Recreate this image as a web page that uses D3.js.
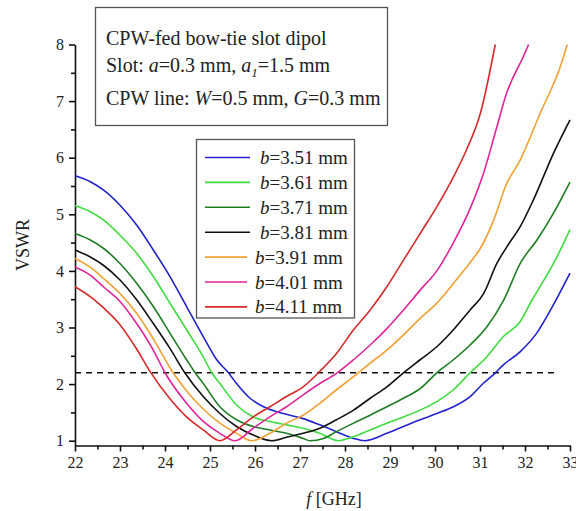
<!DOCTYPE html>
<html>
<head>
<meta charset="utf-8">
<script src="https://cdn.jsdelivr.net/npm/d3@7"></script>
<style>
    body { margin: 0; background: #fff; }
</style>
</head>
<body>
<div id="chart"></div>
<script>

var serif = "'Liberation Serif', 'DejaVu Serif', serif";

// tick labels
var xTicks = [22, 23, 24, 25, 26, 27, 28, 29, 30, 31, 32, 33];
var yTicks = [1, 2, 3, 4, 5, 6, 7, 8];

// curves: [f GHz, VSWR]
var b351 = [[22,5.68],[22.33,5.58],[22.63,5.43],[23.0,5.16],[23.37,4.81],[23.74,4.37],[24.11,3.90],[24.48,3.37],[24.85,2.84],[25.15,2.43],[25.41,2.2],[25.59,2.01],[25.89,1.75],[26.19,1.60],[26.48,1.51],[26.78,1.45],[27.07,1.39],[27.44,1.28],[27.81,1.16],[28.19,1.04],[28.44,1.0],[28.93,1.13],[29.3,1.25],[29.67,1.37],[30.04,1.48],[30.41,1.60],[30.78,1.78],[31.07,2.01],[31.33,2.19],[31.52,2.34],[31.89,2.57],[32.26,2.9],[32.63,3.40],[33.0,3.96]];
var b361 = [[22,5.15],[22.33,5.05],[22.63,4.9],[23.0,4.63],[23.37,4.31],[23.74,3.9],[24.11,3.43],[24.48,2.96],[24.85,2.48],[25.04,2.2],[25.22,2.01],[25.59,1.63],[25.96,1.42],[26.33,1.34],[26.7,1.28],[27.07,1.22],[27.44,1.13],[27.85,1.0],[28.19,1.07],[28.56,1.19],[28.93,1.31],[29.3,1.42],[29.67,1.54],[30.04,1.69],[30.41,1.9],[30.78,2.2],[31.15,2.48],[31.52,2.84],[31.89,3.1],[32.16,3.49],[32.34,3.73],[32.64,4.14],[33.0,4.73]];
var b371 = [[22,4.66],[22.33,4.55],[22.63,4.40],[23.0,4.13],[23.37,3.78],[23.74,3.37],[24.11,2.9],[24.48,2.43],[24.67,2.2],[24.85,2.01],[25.22,1.6],[25.59,1.37],[25.96,1.25],[26.33,1.19],[26.7,1.13],[27.07,1.04],[27.22,1.0],[27.52,1.04],[27.81,1.16],[28.19,1.31],[28.56,1.45],[28.93,1.60],[29.3,1.75],[29.67,1.92],[30.04,2.2],[30.41,2.43],[30.78,2.69],[31.15,3.01],[31.53,3.49],[31.9,4.14],[32.27,4.55],[32.64,5.03],[33.0,5.57]];
var b381 = [[22,4.37],[22.33,4.25],[22.63,4.10],[23.0,3.84],[23.37,3.49],[23.74,3.07],[24.11,2.63],[24.44,2.2],[24.85,1.78],[25.22,1.48],[25.59,1.25],[25.96,1.10],[26.37,1.0],[26.7,1.06],[27.07,1.13],[27.44,1.22],[27.81,1.37],[28.19,1.54],[28.56,1.75],[28.93,1.95],[29.3,2.2],[29.67,2.43],[30.04,2.66],[30.41,2.96],[30.78,3.31],[31.08,3.6],[31.38,4.14],[31.6,4.43],[31.9,4.79],[32.19,5.26],[32.64,6.09],[33.0,6.67]];
var b391 = [[22,4.22],[22.33,4.07],[22.63,3.87],[23.0,3.6],[23.37,3.25],[23.74,2.8],[24.18,2.2],[24.48,1.88],[24.85,1.56],[25.22,1.31],[25.59,1.13],[25.93,1.0],[26.33,1.13],[26.7,1.31],[27.07,1.45],[27.44,1.66],[27.81,1.90],[28.19,2.13],[28.56,2.37],[28.93,2.60],[29.3,2.87],[29.67,3.16],[30.04,3.43],[30.41,3.78],[30.78,4.15],[31.01,4.4],[31.31,4.91],[31.57,5.5],[31.9,5.97],[32.34,6.79],[32.79,7.62],[32.94,8.0]];
var b401 = [[22,4.07],[22.33,3.93],[22.63,3.72],[23.0,3.46],[23.37,3.07],[23.74,2.6],[24.0,2.2],[24.48,1.66],[24.85,1.34],[25.22,1.13],[25.56,1.0],[25.96,1.22],[26.33,1.42],[26.7,1.6],[27.07,1.81],[27.44,2.01],[27.81,2.19],[28.19,2.43],[28.56,2.69],[28.93,2.98],[29.3,3.31],[29.67,3.66],[30.04,4.0],[30.41,4.5],[30.78,5.1],[31.08,5.73],[31.38,6.56],[31.57,7.09],[31.97,7.8],[32.08,8.0]];
var b411 = [[22,3.72],[22.33,3.55],[22.63,3.35],[23.0,3.05],[23.37,2.62],[23.67,2.22],[24.11,1.74],[24.48,1.42],[24.85,1.19],[25.22,1.0],[25.59,1.19],[25.96,1.42],[26.33,1.60],[26.7,1.78],[27.07,1.95],[27.41,2.2],[27.81,2.54],[28.19,2.96],[28.56,3.31],[28.93,3.72],[29.3,4.19],[29.67,4.66],[30.04,5.13],[30.41,5.66],[30.7,6.14],[31.01,6.79],[31.34,8.0]];

var seriesNames = ["3.51", "3.61", "3.71", "3.81", "3.91", "4.01", "4.11"];
var seriesData = [b351, b361, b371, b381, b391, b401, b411];
var seriesColors = ["#2222cc", "#3fdc3f", "#1e7d24", "#111111", "#f0a034", "#e0259a", "#d62a2a"];

// reference level and its span
var refLevel = 2.2;
var refSpan = [22, 32.75];

var width = 576, height = 511;

var svg = d3.select("#chart").append("svg")
    .attr("width", width)
    .attr("height", height)
    .attr("font-family", serif);

// scales
var x = d3.scaleLinear().domain([22, 33]).range([75, 570]);
var y = d3.scaleLinear().domain([0.915, 8]).range([445.5, 44.5]);

// x axis, major + minor ticks
svg.append("g")
    .attr("class", "axis")
    .attr("transform", "translate(0,445.5)")
    .call(d3.axisBottom(x).tickValues(xTicks).tickSize(6).tickSizeOuter(0).tickPadding(5));
svg.append("g")
    .attr("transform", "translate(0,445.5)")
    .call(d3.axisBottom(x).tickValues(d3.range(22.5, 33, 1)).tickSize(4).tickFormat(""))
    .select(".domain").remove();

// y axis
svg.append("g")
    .attr("class", "axis")
    .attr("transform", "translate(75,0)")
    .call(d3.axisLeft(y).tickValues(yTicks).tickSize(6).tickSizeOuter(0).tickPadding(5));
svg.append("g")
    .attr("transform", "translate(75,0)")
    .call(d3.axisLeft(y).tickValues(d3.range(1.5, 8, 1)).tickSize(4).tickFormat(""))
    .select(".domain").remove();

svg.selectAll(".domain, .tick line")
    .attr("stroke", "#111")
    .attr("stroke-width", 1.6);
// d3 puts sans-serif on the axis groups, put the serif back
svg.selectAll(".axis")
    .attr("font-family", serif)
    .attr("font-size", 16);
svg.selectAll(".tick text")
    .attr("fill", "#222");

// axis titles
svg.append("text")
    .attr("x", 334)
    .attr("y", 505)
    .attr("text-anchor", "middle")
    .attr("font-size", 18)
    .attr("fill", "#222")
    .html('<tspan font-style="italic">f</tspan> [GHz]');

svg.append("text")
    .attr("transform", "translate(29,245) rotate(-90)")
    .attr("text-anchor", "middle")
    .attr("font-size", 18)
    .attr("fill", "#222")
    .text("VSWR");

// dashed reference line
svg.append("line")
    .attr("x1", x(refSpan[0]))
    .attr("x2", x(refSpan[1]))
    .attr("y1", y(refLevel))
    .attr("y2", y(refLevel))
    .attr("stroke", "#111")
    .attr("stroke-width", 1.5)
    .attr("stroke-dasharray", "6,5");

// the curves
var line = d3.line()
    .x(function(d) { return x(d[0]); })
    .y(function(d) { return y(d[1]); })
    .curve(d3.curveMonotoneX);

svg.selectAll(".curve")
    .data(seriesData)
    .enter().append("path")
    .attr("class", "curve")
    .attr("d", line)
    .attr("fill", "none")
    .attr("stroke", function(d, i) { return seriesColors[i]; })
    .attr("stroke-width", 1.6);

// annotation box
svg.append("rect")
    .attr("x", 95.5).attr("y", 7.5)
    .attr("width", 292).attr("height", 118)
    .attr("fill", "#fff")
    .attr("stroke", "#555")
    .attr("stroke-width", 1.3);

var note = svg.append("g").attr("font-size", 20).attr("fill", "#222");
note.append("text").attr("x", 106).attr("y", 44.5)
    .text("CPW-fed bow-tie slot dipol");
note.append("text").attr("x", 106).attr("y", 72)
    .html('Slot: <tspan font-style="italic">a</tspan>=0.3 mm, <tspan font-style="italic">a</tspan><tspan font-style="italic" font-size="13px" dy="5">1</tspan><tspan dy="-5">=1.5 mm</tspan>');
note.append("text").attr("x", 106).attr("y", 104.5)
    .html('CPW line: <tspan font-style="italic">W</tspan>=0.5 mm, <tspan font-style="italic">G</tspan>=0.3 mm');

// legend
svg.append("rect")
    .attr("x", 196.5).attr("y", 139.5)
    .attr("width", 158).attr("height", 178.5)
    .attr("fill", "#fff")
    .attr("stroke", "#555")
    .attr("stroke-width", 1.3);

var legend = svg.selectAll(".legend_item")
    .data(seriesNames)
    .enter().append("g")
    .attr("class", "legend_item")
    .attr("transform", function(d, i) { return "translate(0," + (157.5 + i * 24.9) + ")"; });

legend.append("line")
    .attr("x1", 205)
    .attr("x2", function(d, i) { return i < 4 ? 250 : 247; })
    .attr("stroke", function(d, i) { return seriesColors[i]; })
    .attr("stroke-width", 1.6);

legend.append("text")
    .attr("x", function(d, i) { return i < 4 ? 260 : 255; })
    .attr("y", 6.5)
    .attr("font-size", 19)
    .attr("fill", "#222")
    .html(function(d) { return '<tspan font-style="italic">b</tspan>=' + d + ' mm'; });

</script>
</body>
</html>
